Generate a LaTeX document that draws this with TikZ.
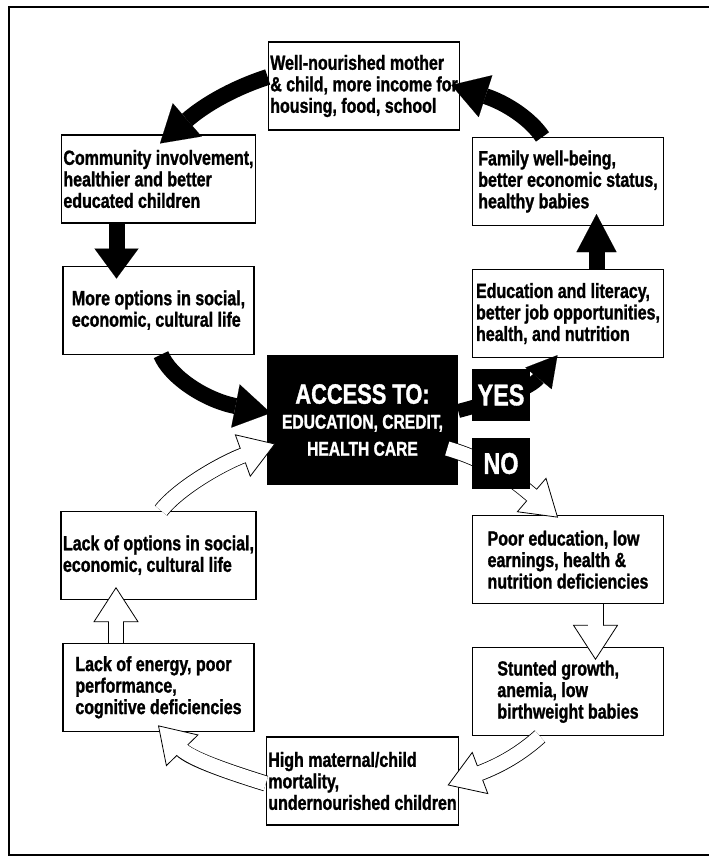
\documentclass[tikz,border=0pt]{standalone}
\usepackage{fontspec}
\setmainfont{Liberation Sans}[FakeStretch=0.78, BoldFeatures={FakeBold=1.2}]
\usetikzlibrary{positioning}
\usetikzlibrary{arrows.meta}
\usetikzlibrary{decorations.markings}

\begin{document}
\begin{tikzpicture}[
 x=1pt, y=-1pt,
 node distance=42pt,
 box/.style={rectangle, draw=black, fill=white, line width=1.1pt, minimum width=191pt, minimum height=88pt, inner sep=2pt, align=left, font=\fontsize{20.5}{21.5}\selectfont\bfseries},
 darkbox/.style={rectangle, fill=black, text=white, inner sep=0pt, align=center, font=\fontsize{30}{30}\selectfont\bfseries},
 yesarrow/.style={line width=16pt, -{Triangle[length=36pt, width=44pt, line width=0.1pt]}},
 noarrow/.style={line width=16pt, draw=black, shorten >=33pt,
  postaction={decorate, decoration={markings, mark=at position 1 with {\draw[line width=0.8pt, fill=white, shorten >=0pt, shorten <=0pt] (0,0) -- (-34,22) -- (-34,-22) -- cycle;}}},
  postaction={draw=white, line width=14.4pt, shorten >=31pt}}
]
\useasboundingbox (0,0) rectangle (709,857);

% Frame
\draw[line width=2pt] (709,7) -- (9,7) -- (9,855) -- (709,855);

% Upper cycle boxes
\node[box] (W) at (364,86) {Well-nourished mother\\\& child, more income for\\housing, food, school};
\node[box] (C) at (158.5,179) {Community involvement,\\healthier and better\\educated children};
\node[box, below=of C] (M) {More options in social,\\economic, cultural life};
\node[box] (F) at (568,181.5) {Family well-being,\\better economic status,\\healthy babies};
\node[box, below=43pt of F] (E) {Education and literacy,\\better job opportunities,\\health, and nutrition};

% Access box
\node[darkbox, minimum width=191pt, minimum height=130pt, font=\fontsize{20}{27}\selectfont\bfseries] (A) at (362.5,420)
 {{\fontsize{28}{30}\selectfont ACCESS TO:}\\[-2pt]EDUCATION, CREDIT,\\HEALTH CARE};

% Lower cycle boxes
\node[box, below=157pt of E] (P) {Poor education, low\\earnings, health \&\\nutrition deficiencies};
\node[box, below=43pt of P] (S) {Stunted growth,\\anemia, low\\birthweight babies};
\node[box] (H) at (362.5,781) {High maternal/child\\mortality,\\undernourished children};
\node[box, below=156pt of M] (LO) {Lack of options in social,\\economic, cultural life};
\node[box, below=43pt of LO] (LE) {Lack of energy, poor\\performance,\\cognitive deficiencies};

% Black arrows (access)
\draw[yesarrow] ([yshift=9pt]W.west) .. controls +(-34,11) and +(45,-39) .. ([xshift=1.5pt,yshift=-9pt]C.north);
\draw[yesarrow] ([xshift=-25.5pt]F.north) .. controls +(-12,-18) and +(55,18) .. ([xshift=-9pt,yshift=1pt]W.east);
\draw[yesarrow, -{Triangle[length=30pt, width=44pt, line width=0.1pt]}] ([xshift=-42pt]C.south) -- ([xshift=-42pt,yshift=-13pt]M.north);
\draw[yesarrow] ([xshift=2.5pt]M.south) .. controls +(9,22) and +(-66,-13) .. ([xshift=4pt,yshift=7pt]A.west);
\draw[yesarrow, -{Triangle[length=38pt, width=40pt, line width=0.1pt]}] ([xshift=28.5pt]E.north) -- ([xshift=28.5pt,yshift=12pt]F.south);
\draw[yesarrow, line width=14pt, -{Triangle[length=30pt, width=34pt, line width=0.1pt]}] ([yshift=9pt]A.east) .. controls +(42,-11) and +(-27,33) .. ([xshift=-10.5pt,yshift=3pt]E.south);

% White arrows (no access)
\draw[noarrow] ([xshift=-11pt,yshift=-28.5pt]A.east) .. controls +(43,12.5) and +(-42,-36) .. ([xshift=-10.5pt,yshift=-2pt]P.north);
\draw[noarrow] ([xshift=27.5pt]P.south) -- ([xshift=27.5pt,yshift=-12pt]S.north);
\draw[noarrow] ([xshift=-28pt]S.south) .. controls +(-19,17) and +(53,-20) .. ([xshift=-11pt,yshift=-4pt]H.east);
\draw[noarrow] ([yshift=-2.5pt]H.west) .. controls +(-37,-11.5) and +(32,33) .. ([yshift=6pt]LE.south);
\draw[noarrow] ([xshift=-42.5pt]LE.north) -- ([xshift=-42.5pt,yshift=12pt]LO.south);
\draw[noarrow] ([xshift=2.5pt]LO.north) .. controls +(19,-24) and +(-50,18) .. ([xshift=8pt,yshift=-24pt]A.west);

% Yes / No labels
\node[darkbox, minimum width=58pt, minimum height=52pt] (Y) at (501,395) {YES};
\node[darkbox, minimum width=58pt, minimum height=51pt] (N) at (501,463.5) {NO};
\end{tikzpicture}
\end{document}
